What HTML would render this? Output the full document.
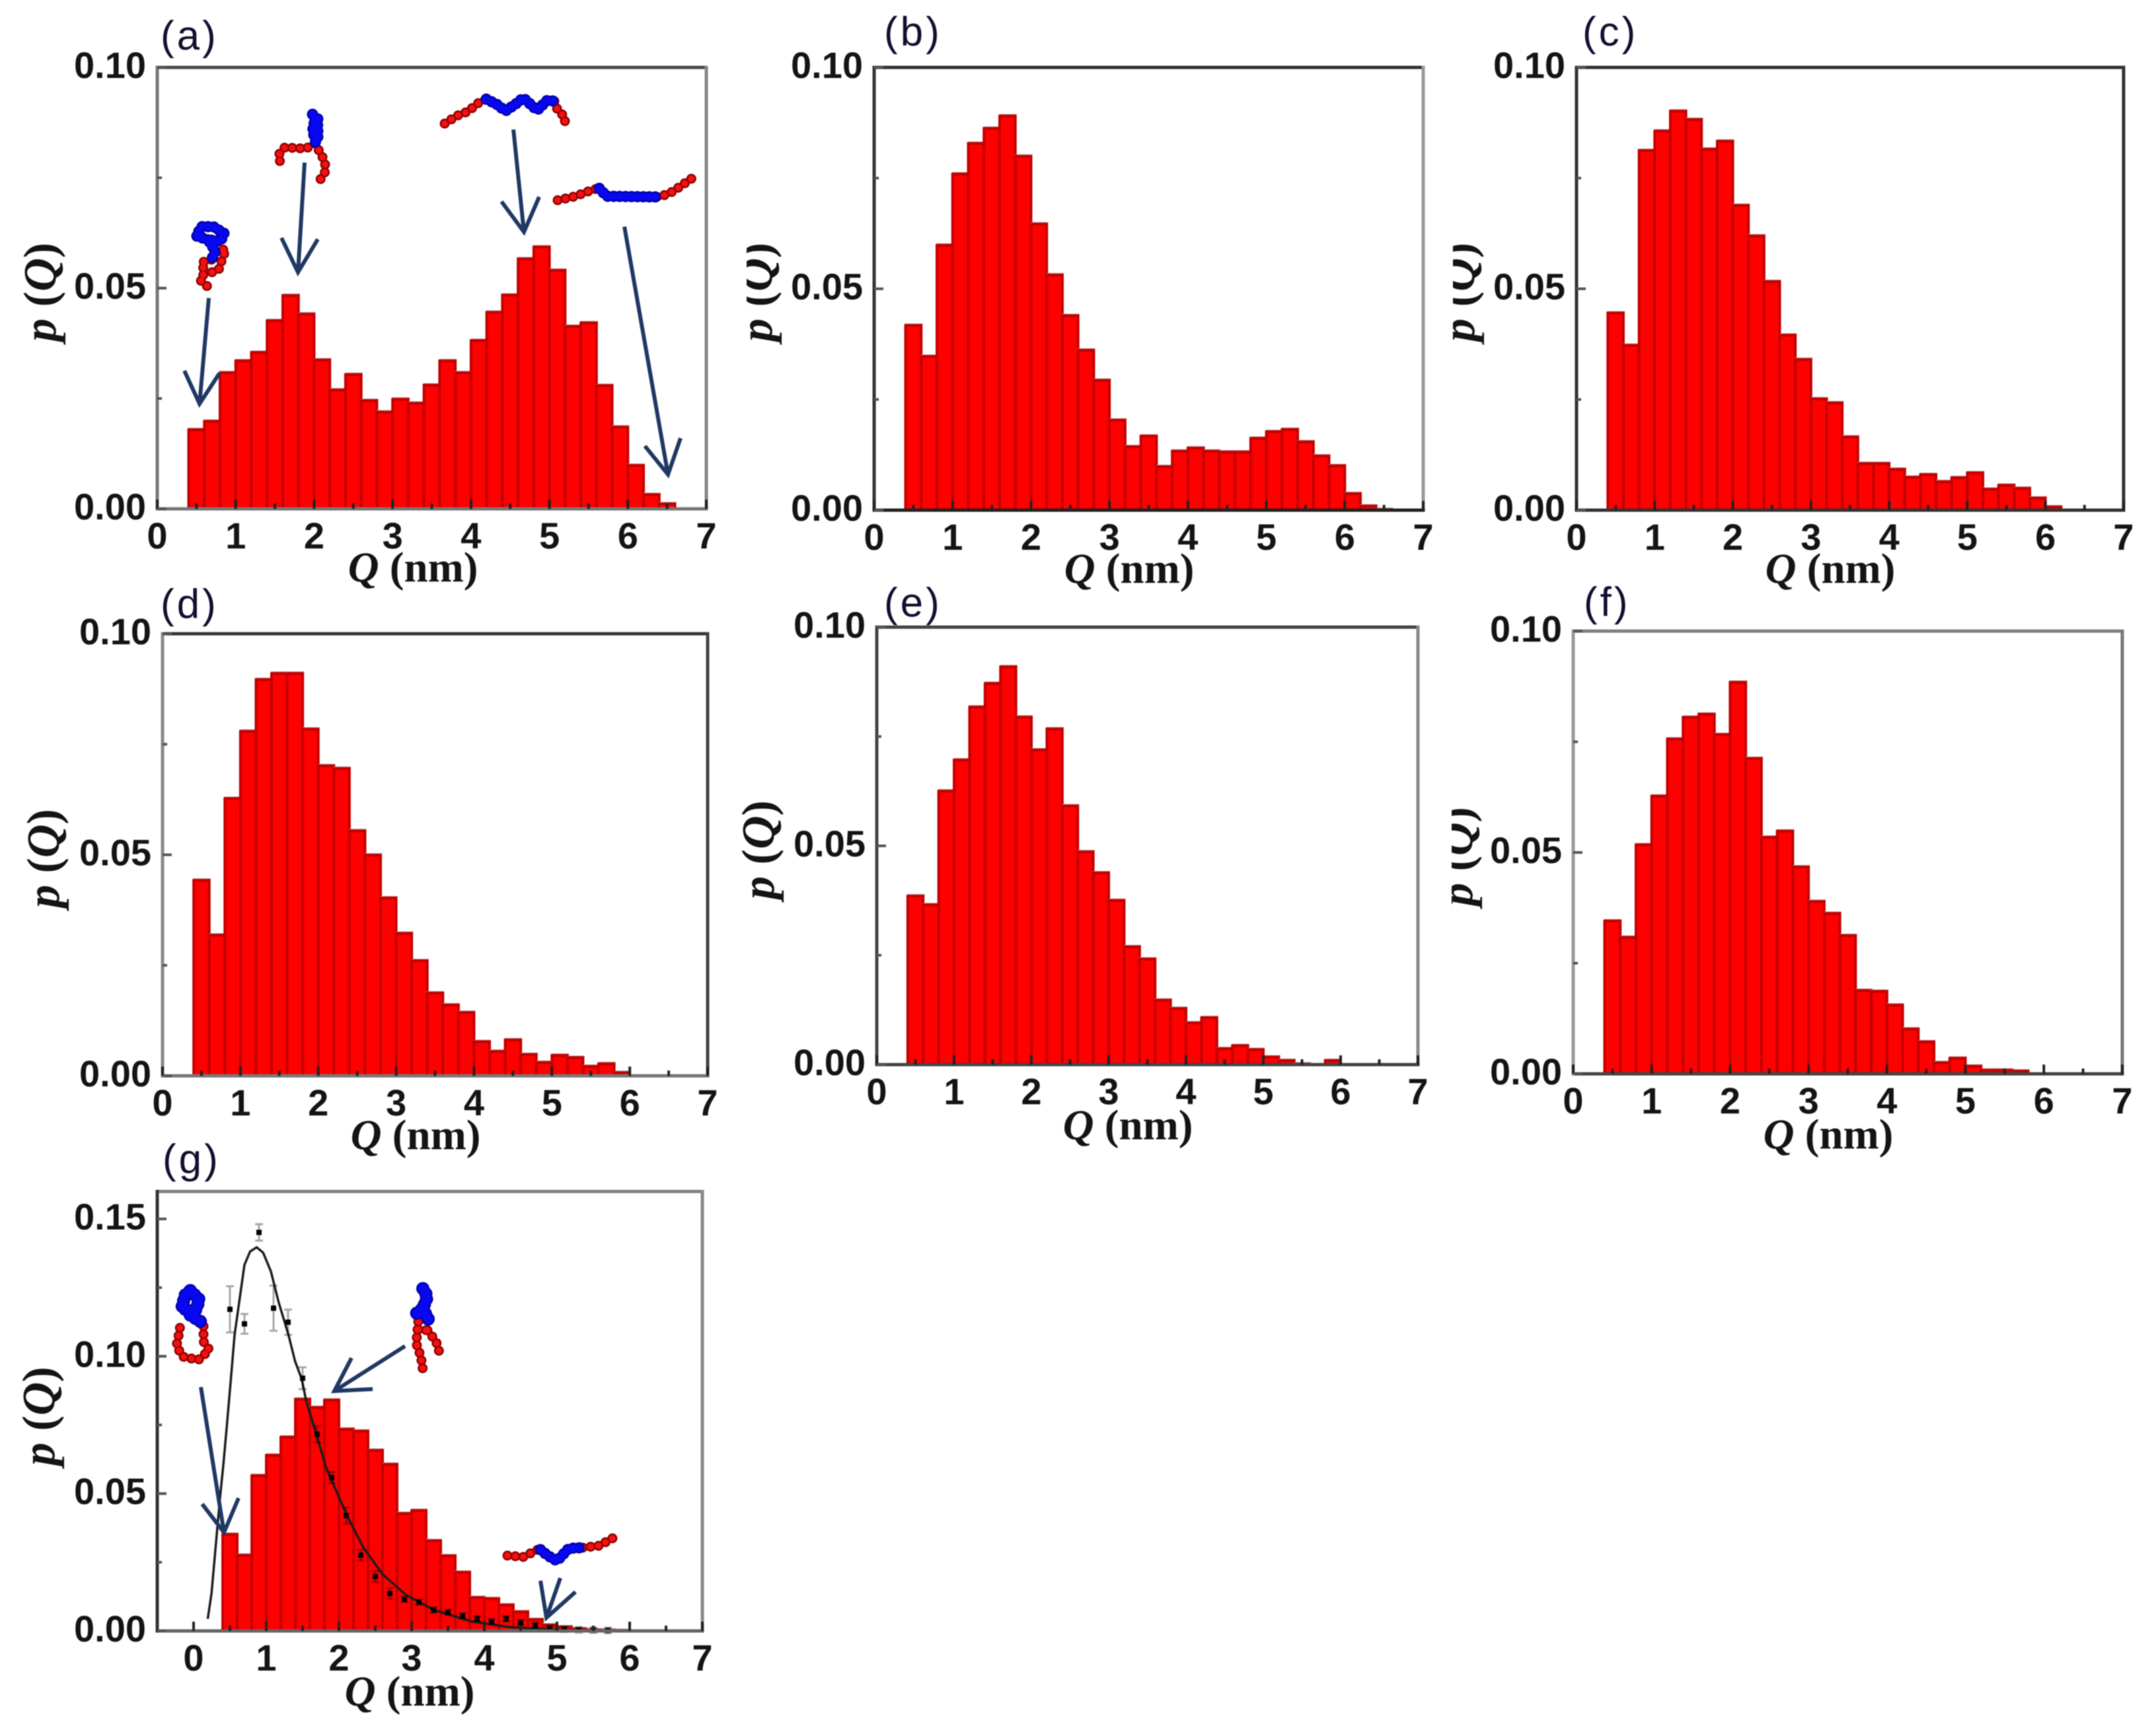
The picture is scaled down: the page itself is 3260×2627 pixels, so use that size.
<!DOCTYPE html>
<html lang="en">
<head>
<meta charset="utf-8">
<title>End-to-end distance distributions p(Q), panels a to g</title>
<style>
html,body{margin:0;padding:0;background:#fff;}
body{width:3260px;height:2627px;overflow:hidden;}
svg{display:block;filter:blur(0.9px);}
.tick-label{font-family:"Liberation Sans",sans-serif;font-weight:700;font-size:56px;fill:#141414;}
.axis-title{font-family:"Liberation Serif",serif;font-weight:700;font-size:65px;fill:#141414;}
.axis-title-y{font-family:"Liberation Serif",serif;font-weight:700;font-size:70px;fill:#141414;}
.panel-label{font-family:"Liberation Sans",sans-serif;font-size:62px;fill:#101030;letter-spacing:4px;}
.arrow{fill:none;stroke:#1f3864;stroke-width:6;stroke-linejoin:miter;}
.bead-under,.bead-over{fill:none;stroke-linecap:round;stroke-linejoin:round;}
.red.bead-under{stroke:#8c0000;stroke-width:15;stroke-dasharray:0 12;}
.red.bead-over{stroke:#f41010;stroke-width:10;stroke-dasharray:0 12;}
.blue.bead-under{stroke:#0000a8;stroke-width:17;stroke-dasharray:0 9;}
.blue.bead-over{stroke:#0808f0;stroke-width:12;stroke-dasharray:0 9;}
</style>
</head>
<body>
<svg id="figure" xmlns="http://www.w3.org/2000/svg" width="3260" height="2627" viewBox="0 0 3260 2627">
  <rect width="3260" height="2627" fill="#fff"/>
  <g id="panels"></g>

  <g id="annotations">
    <g><path class="arrow" d="M316,451 L302,611"/><path class="arrow" d="M279,561 L302,611 L332,565"/></g>
    <g><path class="arrow" d="M461,246 L451,412"/><path class="arrow" d="M426,360 L451,412 L481,362"/></g>
    <g><path class="arrow" d="M777,196 L793,351"/><path class="arrow" d="M759,305 L793,351 L816,298"/></g>
    <g><path class="arrow" d="M945,343 L1011,718"/><path class="arrow" d="M976,675 L1011,718 L1030,663"/></g>
    <g><path class="arrow" d="M304,2099 L339,2319"/><path class="arrow" d="M306,2276 L339,2319 L361,2267"/></g>
    <g><path class="arrow" d="M613,2037 L506,2105"/><path class="arrow" d="M532,2055 L506,2105 L564,2102"/></g>
    <g><path class="arrow" d="M848,2388 L827,2448"/><path class="arrow" d="M818,2392 L827,2448 L871,2409"/></g>

    <g>
      <path class="red bead-under" d="M326,380 L342,377 L336,393 L331,408 L313,415 M320,393 L305,397 L310,413 L302,423 L318,437"/>
      <path class="red bead-over" d="M326,380 L342,377 L336,393 L331,408 L313,415 M320,393 L305,397 L310,413 L302,423 L318,437"/>
      <path class="blue bead-under" d="M315,363 L297,357 L305,343 L323,343 L339,353 L334,365 L315,363 L326,380 L320,393"/>
      <path class="blue bead-over" d="M315,363 L297,357 L305,343 L323,343 L339,353 L334,365 L315,363 L326,380 L320,393"/>
    </g>
    <g>
      <path class="red bead-under" d="M476,217 L463,225 L431,223 L421,235 L426,252 M476,217 L486,233 L492,247 L492,260 L484,273"/>
      <path class="red bead-over" d="M476,217 L463,225 L431,223 L421,235 L426,252 M476,217 L486,233 L492,247 L492,260 L484,273"/>
      <path class="blue bead-under" d="M473,173 L481,190 L481,210 L476,217 M481,180 L473,190 L475,205"/>
      <path class="blue bead-over" d="M473,173 L481,190 L481,210 L476,217 M481,180 L473,190 L475,205"/>
    </g>
    <g>
      <path class="red bead-under" d="M673,187 L692,175 L710,168 L720,158 L736,150 M839,153 L844,167 L855,177 L855,193"/>
      <path class="red bead-over" d="M673,187 L692,175 L710,168 L720,158 L736,150 M839,153 L844,167 L855,177 L855,193"/>
      <path class="blue bead-under" d="M736,150 L752,158 L765,168 L781,157 L792,148 L813,167 L828,152 L839,153"/>
      <path class="blue bead-over" d="M736,150 L752,158 L765,168 L781,157 L792,148 L813,167 L828,152 L839,153"/>
    </g>
    <g>
      <path class="red bead-under" d="M844,303 L871,297 L897,287 L907,285 M994,298 L999,298 L1018,290 L1047,270"/>
      <path class="red bead-over" d="M844,303 L871,297 L897,287 L907,285 M994,298 L999,298 L1018,290 L1047,270"/>
      <path class="blue bead-under" d="M907,285 L918,297 L992,298"/>
      <path class="blue bead-over" d="M907,285 L918,297 L992,298"/>
    </g>
    <g>
      <path class="red bead-under" d="M308,2007 L308,2030 L317,2043 L300,2058 L277,2053 L267,2037 L272,2013 L273,2000"/>
      <path class="red bead-over" d="M308,2007 L308,2030 L317,2043 L300,2058 L277,2053 L267,2037 L272,2013 L273,2000"/>
      <path class="blue bead-under" d="M288,1953 L302,1967 L295,1985 L275,1980 L280,1960 L288,1953 M288,1990 L310,2004" style="stroke-width:20"/>
      <path class="blue bead-over" d="M288,1953 L302,1967 L295,1985 L275,1980 L280,1960 L288,1953 M288,1990 L310,2004" style="stroke-width:15"/>
    </g>
    <g>
      <path class="red bead-under" d="M633,2000 L630,2033 L637,2053 L640,2073 M647,2013 L660,2030 L667,2053 M633,2012 L647,2013"/>
      <path class="red bead-over" d="M633,2000 L630,2033 L637,2053 L640,2073 M647,2013 L660,2030 L667,2053 M633,2012 L647,2013"/>
      <path class="blue bead-under" d="M640,1950 L647,1962 L640,1980 L627,1990 M640,1980 L650,2000" style="stroke-width:20"/>
      <path class="blue bead-over" d="M640,1950 L647,1962 L640,1980 L627,1990 M640,1980 L650,2000" style="stroke-width:15"/>
    </g>
    <g>
      <path class="red bead-under" d="M768,2354 L792,2356 L814,2345 M882,2342 L907,2339 L932,2325"/>
      <path class="red bead-over" d="M768,2354 L792,2356 L814,2345 M882,2342 L907,2339 L932,2325"/>
      <path class="blue bead-under" d="M818,2345 L829,2354 L843,2362 L861,2343 L882,2342"/>
      <path class="blue bead-over" d="M818,2345 L829,2354 L843,2362 L861,2343 L882,2342"/>
    </g>
  </g>
</svg>

<script>
// ---- Chart data ----
const binStart = 0.4;
const binWidth = 0.2;
const valuesA = [0.0179,0.0198,0.0308,0.0335,0.0354,0.0426,0.0483,0.0441,0.0337,0.0269,0.0304,0.0245,0.0219,0.0248,0.0239,0.0280,0.0335,0.0308,0.0381,0.0445,0.0484,0.0566,0.0593,0.0540,0.0413,0.0421,0.0279,0.0185,0.0098,0.0032,0.0011];
const valuesB = [0.0417,0.0347,0.0598,0.0759,0.0828,0.0862,0.0890,0.0799,0.0646,0.0531,0.0439,0.0361,0.0293,0.0203,0.0143,0.0167,0.0098,0.0133,0.0140,0.0133,0.0131,0.0131,0.0162,0.0177,0.0182,0.0154,0.0122,0.0100,0.0037,0.0009,0.0001];
const valuesC = [0.0445,0.0372,0.0812,0.0856,0.0901,0.0882,0.0815,0.0833,0.0688,0.0619,0.0516,0.0395,0.0340,0.0251,0.0242,0.0165,0.0105,0.0105,0.0092,0.0074,0.0080,0.0064,0.0073,0.0084,0.0047,0.0056,0.0049,0.0027,0.0007];
const valuesD = [0.0442,0.0318,0.0627,0.0779,0.0896,0.0910,0.0910,0.0784,0.0701,0.0695,0.0554,0.0499,0.0402,0.0322,0.0260,0.0187,0.0160,0.0143,0.0077,0.0055,0.0081,0.0048,0.0030,0.0046,0.0041,0.0021,0.0027,0.0007];
const valuesE = [0.0385,0.0365,0.0625,0.0696,0.0817,0.0871,0.0909,0.0794,0.0719,0.0767,0.0591,0.0486,0.0438,0.0375,0.0269,0.0241,0.0147,0.0128,0.0095,0.0107,0.0036,0.0043,0.0034,0.0017,0.0009,0.0001,0,0.0009];
const valuesF = [0.0345,0.0308,0.0517,0.0627,0.0756,0.0805,0.0812,0.0766,0.0884,0.0712,0.0534,0.0548,0.0467,0.0389,0.0362,0.0312,0.0188,0.0186,0.0155,0.0101,0.0072,0.0025,0.0035,0.0017,0.0008,0.0008,0.0006];
const valuesG = [0.0351,0.0275,0.0565,0.0639,0.0705,0.0843,0.0813,0.0840,0.0734,0.0727,0.0657,0.0606,0.0427,0.0438,0.0328,0.0273,0.0213,0.0121,0.0117,0.0094,0.0069,0.0041,0.0021,0.0014,0.0007,0.0003,0.0002,0.0001];

const xTickValues = [0,1,2,3,4,5,6,7];
const xMinorTicks = [0.5,1.5,2.5,3.5,4.5,5.5,6.5];
const yTickLabels = ["0.00","0.05","0.10"];
const yTickLabelsG = ["0.00","0.05","0.10","0.15"];

// Panel (g) fitted curve and scatter points with error bars
const curveQ = [0.195,0.247,0.312,0.357,0.412,0.458,0.518,0.564,0.640,0.700,0.776,0.867,0.957,1.064,1.170,1.306,1.397,1.488,1.549,1.670,1.821,2.11,2.338,2.597,2.922,3.312,3.831,4.351,5.13,5.9];
const curveP = [0.0044,0.0138,0.0331,0.0468,0.0612,0.0749,0.0933,0.1077,0.1221,0.1333,0.1381,0.1397,0.1377,0.1309,0.1197,0.1077,0.0981,0.0917,0.0837,0.0733,0.0596,0.042,0.0303,0.0207,0.0131,0.0076,0.0034,0.0014,0.0003,0.0001];
const pointQ = [0.5,0.7,0.9,1.1,1.3,1.5,1.7,1.9,2.1,2.3,2.5,2.7,2.9,3.1,3.3,3.5,3.7,3.9,4.1,4.3,4.5,4.7,4.9,5.1,5.3,5.5,5.7];
const pointP = [0.1171,0.1118,0.1451,0.1175,0.1124,0.0920,0.0716,0.0558,0.0420,0.0276,0.0198,0.0136,0.0115,0.0105,0.0076,0.0068,0.0055,0.0044,0.0034,0.0044,0.0030,0.0020,0.0010,0.0006,0.0004,0.0003,0.0002];
const pointErr = [0.0084,0.0036,0.003,0.0082,0.0046,0.004,0.003,0.002,0.003,0.002,0.002,0.002,0.001,0.001,0.001,0.001,0.001,0.001,0.001,0.001,0.001,0.001,0.001,0.001,0.001,0.001,0.001];

// ---- Layout ----
const panels = [
  {id:'a',vals:valuesA,L:238,R:1069,T:102,B:770,xMin:0,yMax:0.10,yLabels:yTickLabels,
   edges:['#4a4a4a','#858585','#777777','#777777'],labelX:243,labelY:75,titleX:625,titleY:880,yTitleX:84,yTitleY:442},
  {id:'b',vals:valuesB,L:1323,R:2154,T:102,B:772,xMin:0,yMax:0.10,yLabels:yTickLabels,
   edges:['#333333','#999999','#222222','#333333'],labelX:1338,labelY:69,titleX:1709,titleY:882,yTitleX:1168,yTitleY:442,clipLeft:1130},
  {id:'c',vals:valuesC,L:2386,R:3214,T:102,B:772,xMin:0,yMax:0.10,yLabels:yTickLabels,
   edges:['#333333','#333333','#333333','#333333'],labelX:2395,labelY:69,titleX:2770,titleY:882,yTitleX:2231,yTitleY:442,clipLeft:2199},
  {id:'d',vals:valuesD,L:246,R:1071,T:959,B:1628,xMin:0,yMax:0.10,yLabels:yTickLabels,
   edges:['#3a3a3a','#444444','#777777','#888888'],labelX:243,labelY:935,titleX:629,titleY:1739,yTitleX:89,yTitleY:1299},
  {id:'e',vals:valuesE,L:1327,R:2146,T:949,B:1611,xMin:0,yMax:0.10,yLabels:yTickLabels,
   edges:['#444444','#888888','#444444','#444444'],labelX:1338,labelY:933,titleX:1707,titleY:1724,yTitleX:1171,yTitleY:1286},
  {id:'f',vals:valuesF,L:2381,R:3212,T:955,B:1625,xMin:0,yMax:0.10,yLabels:yTickLabels,
   edges:['#808080','#777777','#444444','#999999'],labelX:2397,labelY:932,titleX:2767,titleY:1738,yTitleX:2228,yTitleY:1296,clipLeft:2197},
  {id:'g',vals:valuesG,L:238,R:1063,T:1803,B:2468,xMin:-0.5,yMax:0.16,yLabels:yTickLabelsG,
   edges:['#808080','#888888','#666666','#333333'],labelX:246,labelY:1775,titleX:620,titleY:2581,yTitleX:82,yTitleY:2143}
];

const SVG_NS = 'http://www.w3.org/2000/svg';
function make(tag, attrs, parent, text) {
  const el = document.createElementNS(SVG_NS, tag);
  for (const k in attrs) el.setAttribute(k, attrs[k]);
  if (text !== undefined) el.textContent = text;
  parent.appendChild(el);
  return el;
}

const root = document.getElementById('panels');

panels.forEach(function (p) {
  const sx = function (q) { return p.L + (q - p.xMin) / (7 - p.xMin) * (p.R - p.L); };
  const sy = function (v) { return p.B - v / p.yMax * (p.B - p.T); };

  const g = make('g', {}, root);
  
  

  const label = make('text', {x: p.labelX, y: p.labelY, 'class': 'panel-label'}, g, '(' + p.id + ')');
  
  

  // bars
  const barGroup = make('g', {}, g);
  
  
  p.vals.forEach(function (v, i) {
    const q0 = binStart + i * binWidth;
    const x0 = sx(q0), x1 = sx(q0 + binWidth), y0 = sy(v);
    if (v <= 0) return;
    const halo = make('rect', {x: x0 - 1, y: y0 - 3, width: x1 - x0 + 3, height: 3, fill: '#b8686a'}, barGroup);
    
    
    const bar = make('rect', {x: x0, y: y0, width: x1 - x0, height: p.B - y0, fill: '#ff0000', stroke: '#c20000', 'stroke-width': 4}, barGroup);
    
    
  });

  // curve and points for panel g
  if (p.id === 'g') {
    const d = curveQ.map(function (q, i) {
      return (i ? 'L' : 'M') + sx(q).toFixed(1) + ',' + sy(curveP[i]).toFixed(1);
    }).join(' ');
    const curve = make('path', {d: d, fill: 'none', stroke: '#1c1c1c', 'stroke-width': 3.5, 'stroke-linejoin': 'round'}, g);
    
    
    pointQ.forEach(function (q, i) {
      const cx = sx(q), cy = sy(pointP[i]), lo = sy(pointP[i] - pointErr[i]), hi = sy(pointP[i] + pointErr[i]);
      const err = make('path', {d: 'M' + cx + ',' + lo + ' L' + cx + ',' + hi + ' M' + (cx - 6) + ',' + lo + ' L' + (cx + 6) + ',' + lo + ' M' + (cx - 6) + ',' + hi + ' L' + (cx + 6) + ',' + hi, fill: 'none', stroke: '#a8a8a8', 'stroke-width': 3, style: 'mix-blend-mode:multiply'}, g);
      
      
      const dot = make('rect', {x: cx - 4, y: cy - 4, width: 8, height: 8, fill: '#000'}, g);
      
      
    });
  }

  // frame (top, right, bottom, left)
  const frame = make('g', {'stroke-width': 5, 'stroke-linecap': 'square'}, g);
  
  
  const sides = [[p.L, p.T, p.R, p.T], [p.R, p.T, p.R, p.B], [p.L, p.B, p.R, p.B], [p.L, p.T, p.L, p.B]];
  sides.forEach(function (s, i) {
    const edge = make('line', {x1: s[0], y1: s[1], x2: s[2], y2: s[3], stroke: p.edges[i]}, frame);
    
    
  });

  // x ticks
  xTickValues.forEach(function (t) {
    const x = sx(t);
    const tick = make('line', {x1: x, y1: p.B, x2: x, y2: p.B - 14, stroke: '#222', 'stroke-width': 4}, g);
    
    
    const lab = make('text', {x: x, y: p.B + 60, 'text-anchor': 'middle', 'class': 'tick-label'}, g, String(t));
    
    
  });
  xMinorTicks.forEach(function (t) {
    const x = sx(t);
    const tick = make('line', {x1: x, y1: p.B, x2: x, y2: p.B - 8, stroke: '#222', 'stroke-width': 4}, g);
    
    
  });

  // y ticks
  p.yLabels.forEach(function (lbl) {
    const v = parseFloat(lbl), y = sy(v);
    const tick = make('line', {x1: p.L, y1: y, x2: p.L + 14, y2: y, stroke: '#555', 'stroke-width': 4}, g);
    
    
    const lab = make('text', {x: p.L - 17, y: y + 16, 'text-anchor': 'end', 'class': 'tick-label'}, g, lbl);
    
    
    const minorY = sy(v + 0.025);
    if (v + 0.025 < p.yMax) {
      const minor = make('line', {x1: p.L, y1: minorY, x2: p.L + 7, y2: minorY, stroke: '#555', 'stroke-width': 4}, g);
      
      
    }
  });

  // x axis title
  const xt = make('text', {x: p.titleX, y: p.titleY, 'text-anchor': 'middle', 'class': 'axis-title'}, g);
  
  
  make('tspan', {'font-style': 'italic'}, xt, 'Q');
  make('tspan', {}, xt, ' (nm)');

  // y axis title
  const yHolder = make('g', {}, g);
  if (p.clipLeft) {
    const clip = make('clipPath', {id: 'ytitle-clip-' + p.id}, g);
    make('rect', {x: p.clipLeft, y: p.yTitleY - 120, width: 120, height: 240}, clip);
    yHolder.setAttribute('clip-path', 'url(#ytitle-clip-' + p.id + ')');
  }
  const yt = make('text', {'text-anchor': 'middle', 'class': 'axis-title-y', transform: 'translate(' + p.yTitleX + ',' + p.yTitleY + ') rotate(-90)'}, yHolder);
  
  
  make('tspan', {'font-style': 'italic'}, yt, 'p');
  make('tspan', {}, yt, ' (');
  make('tspan', {'font-style': 'italic'}, yt, 'Q');
  make('tspan', {}, yt, ')');
});
</script>
</body>
</html>
